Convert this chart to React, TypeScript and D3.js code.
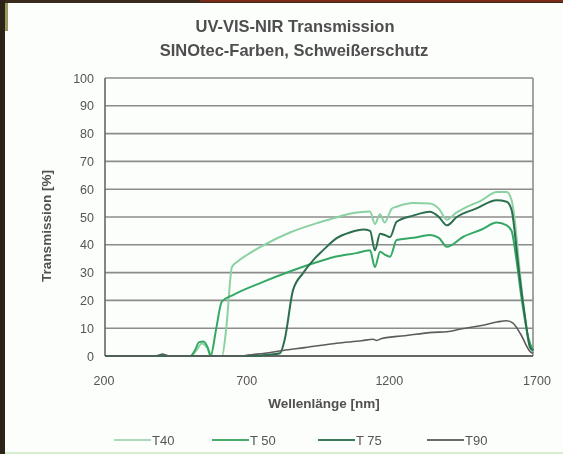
import React from "react";
import * as d3 from "d3";

const seriesNames = ["T40", "T 50", "T 75", "T90"];
const seriesColors = ["#8ad2a2", "#34a865", "#2c6e4e", "#5c5c5c"];
const legendColors = ["#a9dcba", "#49ab6c", "#3a7a5a", "#6a6a6a"];

const t40Nm = [200, 380, 400, 420, 500, 520, 540, 558, 575, 610, 625, 645, 665, 700, 750, 850, 950, 1000, 1050, 1129, 1146, 1164, 1180, 1205, 1222, 1280, 1339, 1370, 1398, 1430, 1456, 1520, 1573, 1608, 1625, 1637, 1652, 1672, 1690, 1700];
const t40Val = [0, 0, 0.5, 0, 0, 2, 4.5, 3, 0, 0, 10, 32, 34, 36.5, 39.5, 44.5, 48, 49.5, 51, 52, 47.5, 51, 48, 53, 53.7, 55, 54.9, 53, 49, 51.5, 53, 56, 59, 59, 56, 48, 32, 14, 3, 2];

const t50Nm = [200, 380, 400, 420, 500, 515, 530, 545, 560, 570, 590, 609, 650, 750, 850, 950, 1000, 1080, 1129, 1146, 1164, 1180, 1199, 1222, 1280, 1339, 1370, 1398, 1456, 1520, 1573, 1608, 1625, 1640, 1661, 1685, 1700];
const t50Val = [0, 0, 0.5, 0, 0, 2, 5, 5.2, 3, 0, 10, 19.5, 22, 26.5, 30.5, 34, 35.5, 37, 38, 32, 37.5, 36.5, 35.7, 41.7, 42.5, 43.5, 42.5, 39.3, 42.9, 45.5, 48, 47, 45, 36, 20, 6, 2];

const t75Nm = [200, 500, 700, 780, 813, 830, 859, 894, 930, 964, 1012, 1060, 1106, 1129, 1146, 1164, 1180, 1199, 1222, 1280, 1339, 1370, 1398, 1433, 1500, 1573, 1608, 1625, 1649, 1672, 1690, 1700];
const t75Val = [0, 0, 0, 0.5, 1, 6, 23.7, 29.8, 34.5, 38, 42.4, 44.5, 45.5, 45, 38, 44, 43.5, 42.8, 48.3, 50.5, 51.9, 50, 47, 50, 53, 56, 55.5, 52.5, 32, 14, 3, 2];

const t90Nm = [200, 380, 403, 425, 680, 700, 760, 824, 900, 1012, 1100, 1140, 1152, 1170, 1250, 1350, 1398, 1450, 1520, 1573, 1608, 1630, 1656, 1690, 1700];
const t90Val = [0, 0, 0.6, 0, 0, 0.3, 1, 2, 3, 4.6, 5.5, 6, 5.6, 6.3, 7.3, 8.5, 8.7, 9.8, 11, 12.2, 12.7, 11.8, 8, 1.6, 1];

const xTicks = [200, 700, 1200, 1700];
const yTicks = [0, 10, 20, 30, 40, 50, 60, 70, 80, 90, 100];

const W = 563;
const H = 454;
const M = { left: 105, right: 533, top: 78, bottom: 356 };

export default function App() {
  const x = d3.scaleLinear().domain([200, 1700]).range([M.left, M.right]);
  const y = d3.scaleLinear().domain([0, 100]).range([M.bottom, M.top]);
  const line = d3
    .line<[number, number]>()
    .x((d) => x(d[0]))
    .y((d) => y(d[1]))
    .curve(d3.curveMonotoneX);

  const series = [
    { nm: t40Nm, v: t40Val },
    { nm: t50Nm, v: t50Val },
    { nm: t75Nm, v: t75Val },
    { nm: t90Nm, v: t90Val },
  ];

  const legendX = [114, 212, 318, 427];
  const font = "'Liberation Sans', Arial, sans-serif";

  return (
    <div style={{ position: "fixed", left: 0, top: 0, width: W, height: H }}>
      <svg
        width={W}
        height={H}
        style={{ display: "block", filter: "blur(0.55px)" }}
        fontFamily={font}
      >
        <rect x={0} y={0} width={W} height={H} fill="#fcfefb" />
        <rect x={0} y={0} width={W} height={3} fill="#3a2a1c" />
        <rect x={200} y={0} width={363} height={2} fill="#7a2a18" />
        <rect x={0} y={0} width={5} height={H} fill="#2c2418" />
        <rect x={5} y={3} width={3} height={28} fill="#9a9a60" />
        <rect x={5} y={H - 2} width={W - 5} height={2} fill="#d8ecd0" />

        <text x={295} y={32} textAnchor="middle" fontSize={16.5} fontWeight="bold" fill="#4e4e4e">
          UV-VIS-NIR Transmission
        </text>
        <text x={294} y={56} textAnchor="middle" fontSize={16.5} fontWeight="bold" fill="#4e4e4e">
          SINOtec-Farben, Schweißerschutz
        </text>

        {yTicks.map((t) => (
          <g key={t}>
            <line x1={M.left} x2={M.right} y1={y(t)} y2={y(t)} stroke="#8c8c8c" strokeWidth={1.6} />
            <text x={94} y={y(t) + 4.5} textAnchor="end" fontSize={12.5} fill="#555">
              {t}
            </text>
          </g>
        ))}
        <line x1={M.left} x2={M.left} y1={M.top} y2={M.bottom} stroke="#666" strokeWidth={1.6} />
        <line x1={M.right} x2={M.right} y1={M.top} y2={M.bottom} stroke="#8c8c8c" strokeWidth={1.6} />
        <line x1={M.left} x2={M.right} y1={M.bottom} y2={M.bottom} stroke="#666" strokeWidth={1.8} />

        {xTicks.map((t) => (
          <text key={t} x={x(t) + (t === 1700 ? 4 : -1)} y={385} textAnchor="middle" fontSize={12.5} fill="#555">
            {t}
          </text>
        ))}

        <text
          transform={`translate(51,${(M.top + M.bottom) / 2 + 9}) rotate(-90)`}
          textAnchor="middle"
          fontSize={13.5}
          fontWeight="bold"
          fill="#505050"
        >
          Transmission [%]
        </text>
        <text x={324} y={408} textAnchor="middle" fontSize={13.5} fontWeight="bold" fill="#505050">
          Wellenlänge [nm]
        </text>

        {series.map((s, i) => (
          <path
            key={i}
            d={line(s.nm.map((n, j) => [n, s.v[j]] as [number, number])) || ""}
            fill="none"
            stroke={seriesColors[i]}
            strokeWidth={i === 3 ? 1.6 : 2}
          />
        ))}

        {seriesNames.map((n, i) => (
          <g key={n}>
            <line
              x1={legendX[i]}
              x2={legendX[i] + 37}
              y1={440}
              y2={440}
              stroke={legendColors[i]}
              strokeWidth={2}
            />
            <text x={legendX[i] + 38} y={445} fontSize={13} fill="#555">
              {n}
            </text>
          </g>
        ))}
      </svg>
    </div>
  );
}
